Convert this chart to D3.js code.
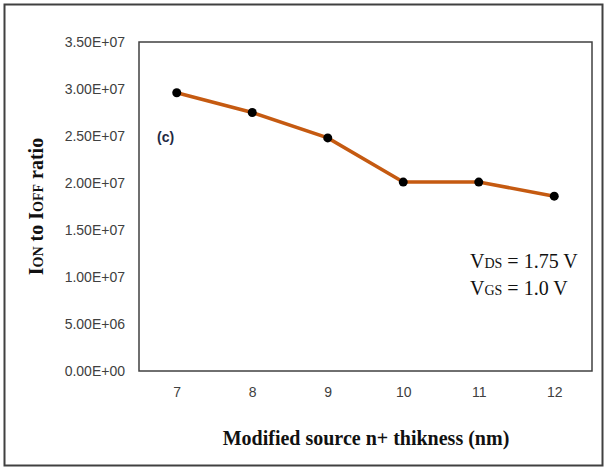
<!DOCTYPE html>
<html>
<head>
<meta charset="utf-8">
<script src="https://cdn.jsdelivr.net/npm/d3@7"></script>
<style>
  body { margin: 0; background: #fff; }
  .tick text { font-family: "Liberation Sans Narrow", "Liberation Sans", sans-serif; font-size: 14px; fill: #404040; }
</style>
</head>
<body>
<div id="chart"></div>
<script>
// data
var thickness = [7, 8, 9, 10, 11, 12];
var ratio = [2.96e7, 2.75e7, 2.48e7, 2.01e7, 2.01e7, 1.86e7];
var yTicks = [0, 5e6, 1e7, 1.5e7, 2e7, 2.5e7, 3e7, 3.5e7];

var svgWidth = 606;
var svgHeight = 468;

var margin = {
  top: 42,
  right: 14,
  bottom: 97,
  left: 139
};

var chartWidth = svgWidth - margin.left - margin.right;
var chartHeight = svgHeight - margin.top - margin.bottom;

var svg = d3.select("#chart").append("svg")
  .attr("width", svgWidth)
  .attr("height", svgHeight);

// outer frame
svg.append("rect")
  .attr("x", 4.5).attr("y", 4.5)
  .attr("width", 598).attr("height", 461)
  .attr("fill", "none")
  .attr("stroke", "#404040")
  .attr("stroke-width", 2);

var chartGroup = svg.append("g")
  .attr("transform", `translate(${margin.left}, ${margin.top})`);

var xScale = d3.scalePoint()
  .domain(thickness)
  .range([0, chartWidth])
  .padding(0.5);

var yScale = d3.scaleLinear()
  .domain([0, 3.5e7])
  .range([chartHeight, 0]);

var xAxis = d3.axisBottom(xScale).tickSize(0).tickPadding(16);
var yAxis = d3.axisLeft(yScale).tickValues(yTicks).tickSize(0).tickPadding(14)
  .tickFormat(function(d) { return d.toExponential(2).toUpperCase().replace(/E\+(\d)$/, "E+0$1"); });

chartGroup.append("g")
  .attr("transform", `translate(0, ${chartHeight})`)
  .call(xAxis)
  .call(g => g.select(".domain").remove());

chartGroup.append("g")
  .call(yAxis)
  .call(g => g.select(".domain").remove());

// plot box
chartGroup.append("rect")
  .attr("width", chartWidth)
  .attr("height", chartHeight)
  .attr("fill", "none")
  .attr("stroke", "#404040")
  .attr("stroke-width", 1.5);

var line = d3.line()
  .x(function(d, i) { return xScale(thickness[i]); })
  .y(function(d) { return yScale(d); });

chartGroup.append("path")
  .datum(ratio)
  .attr("d", line)
  .attr("fill", "none")
  .attr("stroke", "#c55a11")
  .attr("stroke-width", 3.5);

chartGroup.append("g").selectAll("circle")
  .data(ratio)
  .enter()
  .append("circle")
  .attr("cx", function(d, i) { return xScale(thickness[i]); })
  .attr("cy", function(d) { return yScale(d); })
  .attr("r", 4.5)
  .attr("fill", "#000");

// panel label
svg.append("text")
  .attr("x", 157)
  .attr("y", 142)
  .style("font", "bold 14px 'Liberation Sans Narrow', 'Liberation Sans', sans-serif")
  .attr("fill", "#1f2a44")
  .text("(c)");

// bias conditions
var bias = svg.append("g")
  .style("font-family", "'Liberation Serif', serif")
  .attr("fill", "#111");

var t1 = bias.append("text").attr("x", 470).attr("y", 268).style("font-size", "20px");
t1.append("tspan").text("V");
t1.append("tspan").style("font-size", "14px").text("DS");
t1.append("tspan").text(" = 1.75 V");

var t2 = bias.append("text").attr("x", 470).attr("y", 295).style("font-size", "20px");
t2.append("tspan").text("V");
t2.append("tspan").style("font-size", "14px").text("GS");
t2.append("tspan").text(" = 1.0 V");

// Axis Labels
svg.append("text")
  .attr("text-anchor", "middle")
  .attr("x", 366)
  .attr("y", 445)
  .style("font", "bold 20px 'Liberation Serif', serif")
  .attr("fill", "#111")
  .text("Modified source n+ thikness (nm)");

var yt = svg.append("text")
  .attr("text-anchor", "middle")
  .attr("transform", `translate(43, ${margin.top + chartHeight / 2}) rotate(-90)`)
  .style("font", "bold 20px 'Liberation Serif', serif")
  .attr("fill", "#111");
yt.append("tspan").text("I");
yt.append("tspan").style("font-size", "14px").text("ON");
yt.append("tspan").text(" to I");
yt.append("tspan").style("font-size", "14px").text("OFF");
yt.append("tspan").text(" ratio");
</script>
</body>
</html>
